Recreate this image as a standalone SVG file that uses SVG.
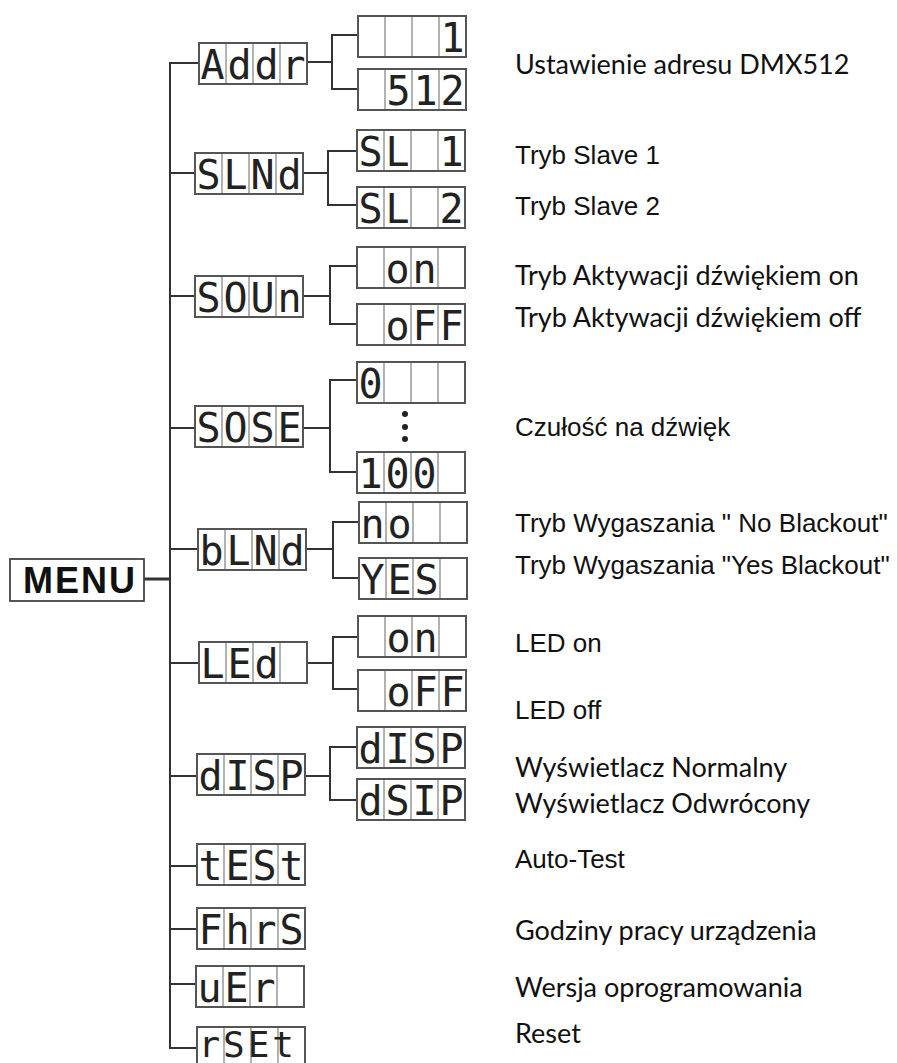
<svg xmlns="http://www.w3.org/2000/svg" width="897" height="1063" viewBox="0 0 897 1063">
<style>
.box{fill:#fff;stroke:#555;stroke-width:2}
.cell{stroke:#999;stroke-width:1.5}
.seg{font-family:"DejaVu Sans Mono",monospace;font-size:40px;fill:#222;letter-spacing:2.92px;white-space:pre}
.ar{font-family:"Liberation Sans",Arial,sans-serif;font-size:26px;fill:#111}
.ca{font-family:Lato,"Liberation Sans",sans-serif;font-size:27px;fill:#111}
.ln{fill:none;stroke:#333;stroke-width:2}
</style>
<defs>
<g id="disp">
<rect class="box" x="0" y="0" width="108" height="41"/>
<line class="cell" x1="27" y1="1" x2="27" y2="40"/>
<line class="cell" x1="54" y1="1" x2="54" y2="40"/>
<line class="cell" x1="81" y1="1" x2="81" y2="40"/>
</g>
</defs>
<g id="connectors">
<line class="ln" x1="144" y1="579" x2="171" y2="579" style="stroke-width:3"/>
<path class="ln" d="M199 63 H170 V1048 H197"/>
<path class="ln" d="M170 173 H195 M170 296 H195 M170 428 H195 M170 549 H198 M170 663 H199 M170 776 H197 M170 866 H197 M170 929 H197 M170 984 H196"/>
<path class="ln" d="M307 62 H332 M358 35 H332 V89 H358"/>
<path class="ln" d="M303 173 H328 M357 151 H328 V205 H357"/>
<path class="ln" d="M303 296 H330 M357 266 H330 V324 H357"/>
<path class="ln" d="M303 428 H330 M357 380 H330 V472 H357"/>
<path class="ln" d="M306 549 H333 M359 522 H333 V578 H359"/>
<path class="ln" d="M307 663 H333 M358 637 H333 V689 H358"/>
<path class="ln" d="M305 776 H330 M357 747 H330 V800 H357"/>
</g>
<g id="menu">
<rect x="10" y="559" width="134" height="42" fill="#fff" stroke="#444" stroke-width="1.8"/>
<text x="23" y="593" font-family="Liberation Sans,Arial,sans-serif" font-size="36" font-weight="bold" letter-spacing="2" fill="#111">MENU</text>
</g>
<g id="addr"><use href="#disp" x="199" y="43"/><text class="seg" x="200.5" y="79" xml:space="preserve">Addr</text></g>
<g id="addr-1"><use href="#disp" x="358" y="16"/><text class="seg" x="359.5" y="52" xml:space="preserve">   1</text></g>
<g id="addr-512"><use href="#disp" x="358" y="69"/><text class="seg" x="359.5" y="105" xml:space="preserve"> 512</text></g>
<g id="slnd"><use href="#disp" x="195" y="153"/><text class="seg" x="196.5" y="189" xml:space="preserve">SLNd</text></g>
<g id="sl1"><use href="#disp" x="357" y="130"/><text class="seg" x="358.5" y="166" xml:space="preserve">SL 1</text></g>
<g id="sl2"><use href="#disp" x="357" y="187"/><text class="seg" x="358.5" y="223" xml:space="preserve">SL 2</text></g>
<g id="soun"><use href="#disp" x="195" y="276"/><text class="seg" x="196.5" y="312" xml:space="preserve">SOUn</text></g>
<g id="soun-on"><use href="#disp" x="357" y="247"/><text class="seg" x="358.5" y="283" xml:space="preserve"> on </text></g>
<g id="soun-off"><use href="#disp" x="357" y="304"/><text class="seg" x="358.5" y="340" xml:space="preserve"> oFF</text></g>
<g id="sose"><use href="#disp" x="195" y="406"/><text class="seg" x="196.5" y="442" xml:space="preserve">SOSE</text></g>
<g id="sose-0"><use href="#disp" x="357" y="362"/><text class="seg" x="358.5" y="398" xml:space="preserve">0   </text></g>
<g id="sose-dots" fill="#222"><circle cx="405" cy="414" r="3"/><circle cx="405" cy="427" r="3"/><circle cx="405" cy="439" r="3"/></g>
<g id="sose-100"><use href="#disp" x="357" y="452"/><text class="seg" x="358.5" y="488" xml:space="preserve">100 </text></g>
<g id="blnd"><use href="#disp" x="198" y="529"/><text class="seg" x="199.5" y="565" xml:space="preserve">bLNd</text></g>
<g id="blnd-no"><use href="#disp" x="359" y="502"/><text class="seg" x="360.5" y="538" xml:space="preserve">no  </text></g>
<g id="blnd-yes"><use href="#disp" x="359" y="558"/><text class="seg" x="360.5" y="594" xml:space="preserve">YES </text></g>
<g id="led"><use href="#disp" x="199" y="642"/><text class="seg" x="200.5" y="678" xml:space="preserve">LEd </text></g>
<g id="led-on"><use href="#disp" x="358" y="616"/><text class="seg" x="359.5" y="652" xml:space="preserve"> on </text></g>
<g id="led-off"><use href="#disp" x="358" y="670"/><text class="seg" x="359.5" y="706" xml:space="preserve"> oFF</text></g>
<g id="disp-node"><use href="#disp" x="197" y="754"/><text class="seg" x="198.5" y="790" xml:space="preserve">dISP</text></g>
<g id="disp-normal"><use href="#disp" x="357" y="727"/><text class="seg" x="358.5" y="763" xml:space="preserve">dISP</text></g>
<g id="disp-inverted"><use href="#disp" x="357" y="779"/><text class="seg" x="358.5" y="815" xml:space="preserve">dSIP</text></g>
<g id="test"><use href="#disp" x="197" y="844"/><text class="seg" x="198.5" y="880" xml:space="preserve">tESt</text></g>
<g id="fhrs"><use href="#disp" x="197" y="908"/><text class="seg" x="198.5" y="944" xml:space="preserve">FhrS</text></g>
<g id="ver"><use href="#disp" x="196" y="966"/><text class="seg" x="197.5" y="1002" xml:space="preserve">uEr </text></g>
<g id="rset"><use href="#disp" x="197" y="1027"/><text class="seg" x="198.5" y="1057" xml:space="preserve" style="font-size:36px">rSEt</text></g>
<g id="labels">
<text class="ca" x="515" y="74">Ustawienie adresu DMX512</text>
<text class="ar" x="515" y="164">Tryb Slave 1</text>
<text class="ar" x="515" y="215">Tryb Slave 2</text>
<text class="ca" x="515" y="285">Tryb Aktywacji dźwiękiem on</text>
<text class="ca" x="515" y="327">Tryb Aktywacji dźwiękiem off</text>
<text class="ar" x="515" y="436">Czułość na dźwięk</text>
<text class="ar" x="515" y="532">Tryb Wygaszania " No Blackout"</text>
<text class="ar" x="515" y="574">Tryb Wygaszania "Yes Blackout"</text>
<text class="ar" x="515" y="652">LED on</text>
<text class="ar" x="515" y="719">LED off</text>
<text class="ca" x="515" y="777">Wyświetlacz Normalny</text>
<text class="ca" x="515" y="813">Wyświetlacz Odwrócony</text>
<text class="ar" x="515" y="868">Auto-Test</text>
<text class="ca" x="515" y="940">Godziny pracy urządzenia</text>
<text class="ca" x="515" y="997">Wersja oprogramowania</text>
<text class="ca" x="515" y="1043">Reset</text>
</g>
</svg>
